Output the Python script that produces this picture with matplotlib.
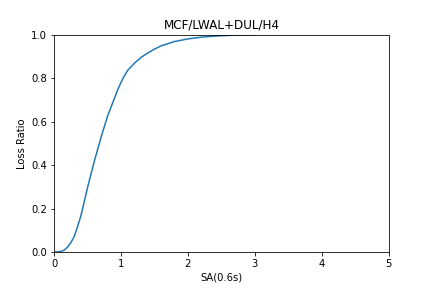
import matplotlib
matplotlib.use("Agg")
import matplotlib.pyplot as plt

sa = [0.02, 0.1, 0.15, 0.2, 0.25, 0.3, 0.35, 0.4, 0.45, 0.5, 0.6, 0.7, 0.8,
      0.9, 0.95, 1.0, 1.05, 1.1, 1.2, 1.3, 1.4, 1.5, 1.6, 1.8, 2.0, 2.2, 2.4,
      2.6, 2.8, 3.0]
loss_ratio = [0.0, 0.002, 0.008, 0.022, 0.042, 0.07, 0.115, 0.165, 0.23, 0.295,
              0.415, 0.525, 0.625, 0.705, 0.745, 0.78, 0.81, 0.835, 0.868,
              0.895, 0.915, 0.933, 0.948, 0.968, 0.98, 0.988, 0.993, 0.996,
              0.998, 0.999]

fig, ax = plt.subplots(figsize=(6, 4), dpi=72)
fig.subplots_adjust(left=0.125, right=0.9, top=0.88, bottom=0.125)
ax.plot(sa, loss_ratio)
ax.set(xlabel='SA(0.6s)', ylabel='Loss Ratio', title='MCF/LWAL+DUL/H4')
ax.set_xlim(0, 5)
ax.set_ylim(0, 1)
fig.savefig("out.png")
